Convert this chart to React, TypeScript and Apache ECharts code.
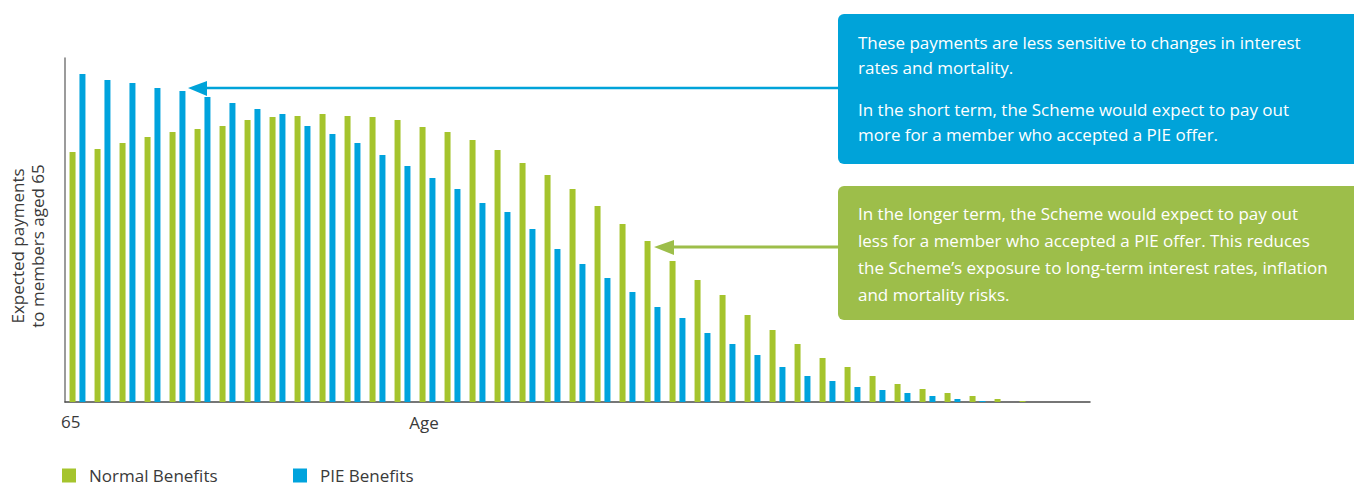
import React, { useEffect, useRef } from "react";
import * as echarts from "echarts";

const ages: string[] = [
  "65","66","67","68","69","70","71","72","73","74","75","76","77","78","79","80","81","82","83","84",
  "85","86","87","88","89","90","91","92","93","94","95","96","97","98","99","100","101","102","103","104","105",
];
const shownAgeLabels: string[] = ["65"];
const normalBenefits: number[] = [
  250, 253, 259, 265, 270, 273, 276, 282, 285, 286, 288, 286, 285, 282, 275, 270, 262, 252, 239, 227,
  213, 196, 178, 161, 141, 122, 107, 87, 72, 58, 44, 35, 26, 18, 13, 9, 6, 3, 1, 0, 0,
];
const pieBenefits: number[] = [
  328, 322, 319, 314, 311, 305, 299, 293, 288, 276, 268, 259, 247, 236, 224, 213, 199, 190, 173, 153,
  138, 124, 110, 95, 84, 69, 58, 47, 35, 26, 21, 15, 12, 9, 6, 3, 1, 0, 0, 0, 0,
];
const seriesNames: string[] = ["Normal Benefits", "PIE Benefits"];
const xAxisTitle = "Age";
const yAxisTitleLines: string[] = ["Expected payments", "to members aged 65"];
const blueCallout: string[] = [
  "These payments are less sensitive to changes in interest",
  "rates and mortality.",
  "In the short term, the Scheme would expect to pay out",
  "more for a member who accepted a PIE offer.",
];
const greenCallout: string[] = [
  "In the longer term, the Scheme would expect to pay out",
  "less for a member who accepted a PIE offer. This reduces",
  "the Scheme\u2019s exposure to long-term interest rates, inflation",
  "and mortality risks.",
];

const FONT = "'Open Sans', 'Noto Sans', sans-serif";
const FS = 17;
const GREEN = "#a5c42d";
const BLUE = "#00a3dd";
const BOX_BLUE = "#00a3d9";
const BOX_GREEN = "#9dbe4a";
const TEXT = "#3a3a3a";

export default function App() {
  const ref = useRef<HTMLDivElement>(null);
  useEffect(() => {
    if (!ref.current) return;
    const chart = echarts.init(ref.current, null, { renderer: "svg" });
    const blueY = [42, 67, 109, 134];
    const greenY = [213, 240, 267, 294];
    const legendBase = {
      top: 467,
      padding: 0,
      itemWidth: 14,
      itemHeight: 14,
      icon: "rect",
      textStyle: { fontSize: FS, color: TEXT, fontFamily: FONT, padding: [0, 0, 0, 8] },
    };
    chart.setOption({
      animation: false,
      textStyle: { fontFamily: FONT },
      grid: { left: 65, top: 58, width: 1025, height: 344, containLabel: false },
      legend: [
        { ...legendBase, left: 62, data: [seriesNames[0]] },
        { ...legendBase, left: 293, data: [seriesNames[1]] },
      ],
      xAxis: {
        type: "category",
        data: ages,
        axisTick: { show: false },
        axisLine: { lineStyle: { color: "#4a4a4a", width: 1.5 } },
        axisLabel: {
          interval: 0,
          formatter: (v: string) => (shownAgeLabels.includes(v) ? v : ""),
          align: "right",
          padding: [0, -3, 0, 0],
          margin: 11,
          fontSize: FS,
          color: TEXT,
          fontFamily: FONT,
        },
      },
      yAxis: {
        type: "value",
        min: 0,
        max: 344,
        splitLine: { show: false },
        axisLabel: { show: false },
        axisTick: { show: false },
        axisLine: { show: true, lineStyle: { color: "#7a7a7a", width: 1.5 } },
      },
      series: [
        {
          name: seriesNames[0],
          type: "bar",
          data: normalBenefits,
          barWidth: 6,
          barGap: "65%",
          itemStyle: { color: GREEN },
        },
        {
          name: seriesNames[1],
          type: "bar",
          data: pieBenefits,
          barWidth: 6,
          barGap: "65%",
          itemStyle: { color: BLUE },
        },
      ],
      graphic: [
        {
          type: "text",
          x: 424,
          y: 422,
          style: { text: xAxisTitle, fontSize: FS, fill: TEXT, fontFamily: FONT, align: "center", verticalAlign: "middle" },
        },
        {
          type: "text",
          x: 17,
          y: 246,
          rotation: Math.PI / 2,
          style: { text: yAxisTitleLines[0], fontSize: FS, fill: TEXT, fontFamily: FONT, align: "center", verticalAlign: "middle" },
        },
        {
          type: "text",
          x: 37,
          y: 246,
          rotation: Math.PI / 2,
          style: { text: yAxisTitleLines[1], fontSize: FS, fill: TEXT, fontFamily: FONT, align: "center", verticalAlign: "middle" },
        },
        // blue callout
        {
          type: "line",
          shape: { x1: 838, y1: 88, x2: 204, y2: 88 },
          style: { stroke: BOX_BLUE, lineWidth: 2.5 },
        },
        {
          type: "polygon",
          shape: { points: [[188, 88], [207, 81], [207, 96]] },
          style: { fill: BOX_BLUE },
        },
        {
          type: "rect",
          shape: { x: 838, y: 14, width: 530, height: 150, r: 6 },
          style: { fill: BOX_BLUE },
        },
        ...blueCallout.map((t, i) => ({
          type: "text",
          x: 858,
          y: blueY[i],
          style: { text: t, fontSize: FS, fill: "#ffffff", fontFamily: FONT, verticalAlign: "middle" },
        })),
        // green callout
        {
          type: "line",
          shape: { x1: 838, y1: 247, x2: 672, y2: 247 },
          style: { stroke: BOX_GREEN, lineWidth: 3 },
        },
        {
          type: "polygon",
          shape: { points: [[654, 247], [674, 240], [674, 255]] },
          style: { fill: BOX_GREEN },
        },
        {
          type: "rect",
          shape: { x: 838, y: 186, width: 530, height: 134, r: 6 },
          style: { fill: BOX_GREEN },
        },
        ...greenCallout.map((t, i) => ({
          type: "text",
          x: 858,
          y: greenY[i],
          style: { text: t, fontSize: FS, fill: "#ffffff", fontFamily: FONT, verticalAlign: "middle" },
        })),
      ],
    });
    return () => chart.dispose();
  }, []);
  return (
    <div
      ref={ref}
      style={{ position: "fixed", left: 0, top: 0, width: 1354, height: 484, background: "#ffffff" }}
    />
  );
}
